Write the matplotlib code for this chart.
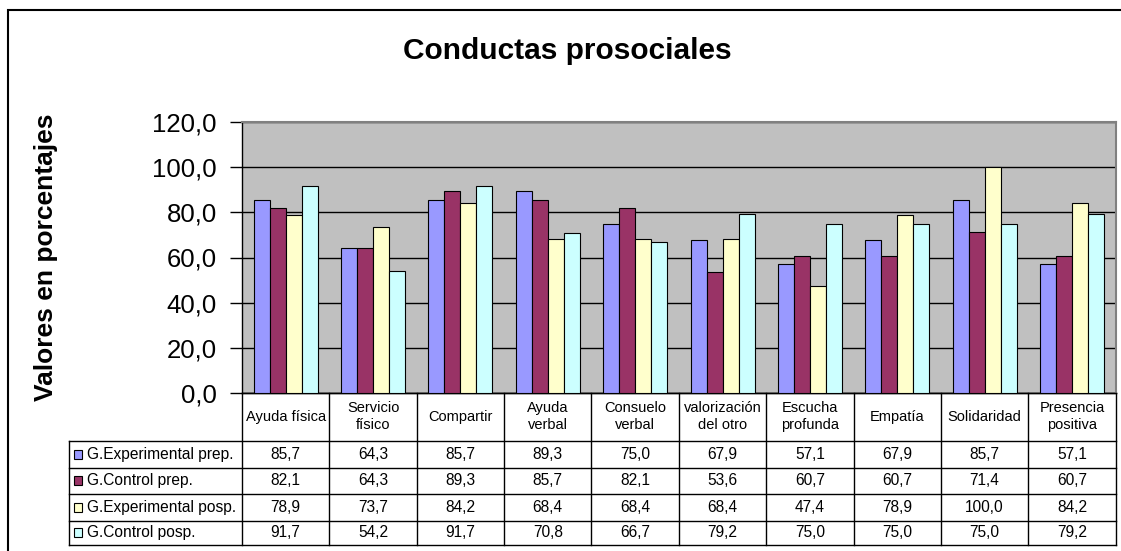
import numpy as np
import matplotlib.pyplot as plt
from matplotlib.patches import Rectangle
from matplotlib.lines import Line2D
from matplotlib.ticker import FuncFormatter
from matplotlib.transforms import blended_transform_factory

plt.rcParams['font.family'] = ['Liberation Sans', 'DejaVu Sans']

categories = ['Ayuda física', 'Servicio\nfísico', 'Compartir', 'Ayuda\nverbal', 'Consuelo\nverbal',
              'valorización\ndel otro', 'Escucha\nprofunda', 'Empatía', 'Solidaridad', 'Presencia\npositiva']
series_names = ['G.Experimental prep.', 'G.Control prep.', 'G.Experimental posp.', 'G.Control posp.']
exp_prep = [85.7, 64.3, 85.7, 89.3, 75.0, 67.9, 57.1, 67.9, 85.7, 57.1]
ctrl_prep = [82.1, 64.3, 89.3, 85.7, 82.1, 53.6, 60.7, 60.7, 71.4, 60.7]
exp_posp = [78.9, 73.7, 84.2, 68.4, 68.4, 68.4, 47.4, 78.9, 100.0, 84.2]
ctrl_posp = [91.7, 54.2, 91.7, 70.8, 66.7, 79.2, 75.0, 75.0, 75.0, 79.2]
series = [exp_prep, ctrl_prep, exp_posp, ctrl_posp]
colors_ = ['#9999FF', '#993366', '#FFFFCC', '#CCFFFF']

W, H = 1121, 551
# plot area in pixels
PL, PR, PT, PB = 242.0, 1115.7, 122.3, 392.7
row_edges = [PB, 440.7, 467.5, 494.0, 520.7, 545.0]  # header + 4 data rows
LEG_L = 69.3

fig = plt.figure(figsize=(W / 100, H / 100), dpi=100)
ax = fig.add_axes([PL / W, 1 - PB / H, (PR - PL) / W, (PB - PT) / H])
ax.set_facecolor('#C0C0C0')

def ya(y):  # pixel y -> axes fraction
    return (PB - y) / (PB - PT)

def xa(x):  # pixel x -> axes fraction
    return (x - PL) / (PR - PL)

n = len(categories)
x = np.arange(n)
bw = 0.183
for i, (vals, c) in enumerate(zip(series, colors_)):
    ax.bar(x + (i - 1.5) * bw, vals, bw, color=c, edgecolor='black', linewidth=0.8, zorder=3)

ax.set_xlim(-0.5, n - 0.5)
ax.set_ylim(0, 120)
ax.set_yticks(np.arange(0, 121, 20))
ax.yaxis.set_major_formatter(FuncFormatter(lambda v, p: f'{v:.1f}'.replace('.', ',')))
ax.yaxis.grid(True, color='black', linewidth=1.0, zorder=1)
ax.set_xticks([])
ax.tick_params(axis='y', length=9, width=1, labelsize=18.5, pad=9, color='black')
for s in ['top', 'right']:
    ax.spines[s].set_color('#808080')
    ax.spines[s].set_linewidth(1.5)
ax.spines['left'].set_linewidth(1.0)
ax.spines['bottom'].set_linewidth(1.0)

# data table under the axis
tr = blended_transform_factory(ax.transData, ax.transAxes)
lw = 1.0
# vertical lines between categories
for k in range(n + 1):
    ax.add_line(Line2D([k - 0.5, k - 0.5], [ya(PB), ya(row_edges[-1])], transform=tr,
                       color='black', linewidth=lw, clip_on=False))
# horizontal lines
for j, y in enumerate(row_edges):
    x0 = 0 if j == 0 else xa(LEG_L)
    ax.add_line(Line2D([x0, 1], [ya(y), ya(y)], transform=ax.transAxes,
                       color='black', linewidth=lw, clip_on=False))
ax.add_line(Line2D([xa(LEG_L), xa(LEG_L)], [ya(row_edges[1]), ya(row_edges[-1])],
                   transform=ax.transAxes, color='black', linewidth=lw, clip_on=False))

# category labels
for k, lab in enumerate(categories):
    ax.text(k, ya((row_edges[0] + row_edges[1]) / 2), lab, transform=tr, ha='center', va='center',
            fontsize=10.5, linespacing=1.25, clip_on=False)

# rows
for j, (name, vals, c) in enumerate(zip(series_names, series, colors_)):
    yc = ya((row_edges[j + 1] + row_edges[j + 2]) / 2)
    ax.add_patch(Rectangle((xa(73.5), yc - 4.5 / (PB - PT)), 8.5 / (PR - PL), 9 / (PB - PT),
                           transform=ax.transAxes, facecolor=c, edgecolor='black', linewidth=0.8,
                           clip_on=False))
    ax.text(xa(87), yc, name, transform=ax.transAxes, ha='left', va='center', fontsize=11.2, clip_on=False)
    for k, v in enumerate(vals):
        ax.text(k, yc, f'{v:.1f}'.replace('.', ','), transform=tr, ha='center', va='center',
                fontsize=11.2, clip_on=False)

ax.set_ylabel('Valores en porcentajes', fontsize=19, fontweight='bold', va='center')
ax.yaxis.set_label_coords(xa(46), ya(257.5), transform=ax.transAxes)

fig.text(567 / W, 1 - 51 / H, 'Conductas prosociales', ha='center', va='center',
         fontsize=21.5, fontweight='bold')

# outer chart frame (left and top edges visible)
fig.add_artist(Rectangle((7.5 / W, -20 / H), 1200 / W, (H - 10 + 20) / H, transform=fig.transFigure,
                         facecolor='none', edgecolor='black', linewidth=1.5))

fig.savefig('out.png', dpi=100)
